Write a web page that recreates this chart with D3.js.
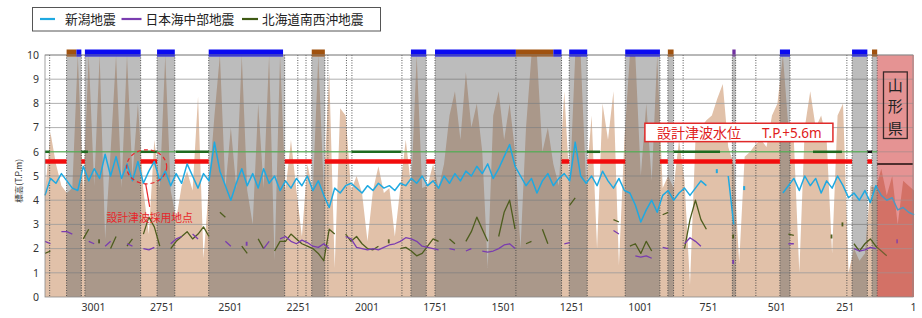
<!DOCTYPE html>
<html>
<head>
<meta charset="utf-8">
<script src="https://cdn.jsdelivr.net/npm/d3@7"></script>
<style>
body{margin:0;background:#fff;font-family:"Noto Sans CJK JP","Noto Sans",sans-serif;}
</style>
</head>
<body>
<div id="chart"></div>
<script>
var W = 922, H = 318;

// distance (m) runs right to left
var xDomain = [3177, 1];
var xTicks = [3001,2751,2501,2251,2001,1751,1501,1251,1001,751,501,251,1];
var yTicks = [0,1,2,3,4,5,6,7,8,9,10];

// profile sampled every 20 from 3177
var seriesStart = 3177, seriesStep = 20;

// ground elevation
var terrain = [
4.3,6.8,5.5,4.6,4.3,4.5,10,4.4,10,4.6,
10,2.4,6,10,4.5,10,5,8,4.4,2.6,
6.5,4.5,10,4.4,3.2,4.6,5.2,4.4,8.3,1.6,
4.6,7.5,10,4.5,7,4.5,10,4.4,3,8,
4.5,10,1.5,10,4.4,6.5,4.4,2.5,5.5,4.4,
10,4.4,9.3,1.2,7.8,7.5,4.4,5.0,4.3,2.3,
4.4,5.4,4.3,4.5,2.5,4.5,6.5,4.5,10,4.5,
4.6,5.5,4.5,5.5,7.5,8.5,6.5,9.3,7,8,
6,1.2,7.5,8.5,6.5,8,6,2.0,7,10,
10,6,7,5.5,4.6,8.5,4.5,10,10,4.6,
7.5,2.0,8,6.5,8.5,1.3,6.5,10,10,5,
8,4.8,10,4.5,5.0,4.5,6.5,4.8,0.5,6.5,
7,7.3,7.5,8.2,8.8,6.2,5.5,1.4,5.8,6,
6.3,6.5,6.2,7.5,8,10,7,6.5,1.0,7,
8.5,7,7.5,6.5,1.8,7.5,8,1.0,2.0,1.5,
1.8,4.6,4.5,5.3,4.2,5.0,3.0,4.8,4.6,4.4
];

// 新潟地震
var niigata = [
4.2,4.9,4.7,5.1,4.8,4.5,4.4,5.4,4.8,5.3,
4.9,5.9,5.0,5.8,4.9,5.5,4.8,5.6,4.7,5.2,
5.6,4.8,5.2,4.6,5.1,4.7,5.5,5.0,4.5,5.1,
4.8,6.4,5.2,4.6,4.0,4.7,5.3,4.6,5.1,4.5,
5.3,4.7,5.0,4.4,4.8,4.5,4.9,4.6,5.0,4.4,
4.8,4.2,3.7,4.5,4.3,4.6,4.7,4.5,4.3,4.6,
4.4,4.7,4.5,4.6,4.4,4.7,4.6,4.9,4.7,5.0,
4.6,4.8,4.5,5.0,4.7,5.1,4.8,5.2,5.0,5.4,
5.1,5.5,4.9,5.3,5.8,6.3,5.4,5.0,4.6,4.9,
4.3,4.8,5.1,4.6,4.9,5.1,4.8,6.4,5.0,4.7,
5.0,4.6,5.2,4.8,4.5,4.9,4.4,4.3,3.8,3.1,
3.6,4.0,3.5,4.2,4.4,4.0,4.3,4.5,4.2,4.5,
4.8,4.6,null,5.2,null,5.0,3.0,null,4.5,null,
null,null,null,null,null,4.3,4.6,4.9,4.4,5.0,
4.6,4.9,4.3,4.8,4.5,5.0,4.6,4.1,4.3,4.0,
4.4,3.9,4.6,4.2,4.0,4.1,3.6,3.7,3.5,3.4
];

// 日本海中部地震
var nihonkai = [
2.3,2.2,null,2.7,2.7,2.6,null,null,2.3,2.2,
null,2.1,2.3,null,null,2.2,2.1,null,2.0,1.95,
2.05,null,null,2.2,2.4,2.5,null,2.6,2.4,null,
null,null,null,2.3,2.1,null,null,2.2,null,null,
2.0,2.3,null,2.4,2.5,2.3,2.2,2.35,2.25,2.1,
2.05,2.2,2.0,null,null,2.5,2.4,2.05,2.0,1.95,
2.0,1.95,2.05,2.15,2.2,2.3,2.45,2.4,2.3,2.1,
2.05,2.0,1.95,null,2.0,1.95,null,1.9,2.0,null,
1.9,1.85,1.9,2.0,2.15,2.2,2.0,null,null,null,
null,null,null,null,null,2.2,2.25,null,null,null,
null,null,null,null,2.75,2.6,null,null,1.7,1.65,
1.7,1.6,null,2.05,2.0,null,null,2.2,2.45,2.3,
2.1,null,null,null,null,null,1.45,null,null,null,
null,null,null,null,null,null,2.2,2.2,null,null,
null,null,null,null,null,null,null,null,2.0,1.9,
1.95,2.05,2.0,null,null,null,2.3,null,null,null
];

// 北海道南西沖地震
var hokkaido = [
1.8,1.9,null,null,null,null,null,2.4,2.8,null,
2.3,null,2.0,2.5,null,2.1,2.4,null,2.6,3.3,
2.9,2.1,null,2.0,2.3,2.5,2.7,2.4,2.6,2.9,
2.5,null,3.5,3.3,null,null,2.1,1.8,null,2.4,
2.0,null,1.9,2.3,2.3,2.6,2.4,2.2,2.1,2.0,
1.8,1.5,2.8,2.6,null,2.6,2.3,2.5,2.2,2.0,
1.95,2.1,null,2.3,null,2.0,2.05,1.9,1.7,1.8,
2.1,2.4,2.3,null,2.4,2.2,null,2.3,2.7,3.3,
2.8,2.3,null,2.5,3.5,4.0,2.8,null,2.2,2.3,
null,2.8,2.2,null,null,null,3.8,4.1,null,null,
null,null,null,null,3.2,3.1,null,2.1,2.2,1.8,
2.3,1.9,null,3.4,3.5,null,null,2.0,3.2,4.0,
3.2,2.8,null,null,null,null,2.5,null,null,null,
null,null,null,null,null,null,2.6,2.55,null,null,
null,null,null,null,2.5,null,3.0,null,2.2,1.9,
2.2,2.4,2.1,1.9,1.7,null,null,null,null,null
];

// shaded sections (from, to)
var bands = [[3098,3044],[3031,2827],[2767,2702],[2578,2300],[2201,2153],[1838,1782],
  [1750,1287],[1259,1193],[1054,927],[898,877],[662,650],[488,451],[224,168],[151,132]];
// marker bars over the sections: a = blue, b = brown, c = purple
var topBars = [[3098,3062,"b"],[3062,3044,"a"],[3031,2827,"a"],[2767,2702,"a"],[2578,2306,"a"],
  [2201,2153,"b"],[1838,1782,"a"],[1750,1454,"a"],[1454,1317,"b"],[1317,1287,"a"],
  [1259,1193,"a"],[1054,927,"a"],[898,877,"b"],[662,650,"c"],[488,451,"a"],[224,168,"a"],[151,132,"b"]];
var extraDotted = [3160,2252,2222,2142,2074,2054,1871,1454,842,576,243];
var greenBold = [[3177,3160],[3044,3020],[2827,2768],[2698,2578],[2055,1874],[1194,1146],[876,707],[367,261]];
var greenBlack = [[167,151]];
var designLevel = 5.6, refLevel = 6.0, yamagataLevel = 5.5;
var yamagata = [132, 1];

var legendItems = [
  {name:"新潟地震", color:"#1fa9e1"},
  {name:"日本海中部地震", color:"#7a3db0"},
  {name:"北海道南西沖地震", color:"#3f5a14"}
];
var barColor = {a:"#0a0af2", b:"#a0520f", c:"#7030a0"};

var svg = d3.select("#chart").append("svg").attr("width", W).attr("height", H)
  .style("font-family", '"Noto Sans CJK JP","Noto Sans",sans-serif');

var x = d3.scaleLinear().domain(xDomain).range([45, 913]);
var y = d3.scaleLinear().domain([0, 10]).range([297, 55]);
var xs = function(i){ return seriesStart - seriesStep*i; };

var defs = svg.append("defs");
defs.append("clipPath").attr("id","clipMain").append("rect")
  .attr("x", x(xDomain[0])).attr("y", y(10)).attr("width", x(yamagata[0]) - x(xDomain[0])).attr("height", y(0)-y(10));
defs.append("clipPath").attr("id","clipPink").append("rect")
  .attr("x", x(yamagata[0])).attr("y", y(10)).attr("width", x(yamagata[1]) - x(yamagata[0]) + 1).attr("height", y(0)-y(10));

// Yamagata background
svg.append("rect")
  .attr("x", x(yamagata[0])).attr("y", y(10))
  .attr("width", x(yamagata[1]) - x(yamagata[0]) + 1).attr("height", y(0)-y(10))
  .attr("fill", "#eaa6a6");

var area = d3.area()
  .x(function(d,i){ return x(xs(i)); })
  .y0(y(0))
  .y1(function(d){ return y(d); });

svg.append("path").datum(terrain).attr("clip-path","url(#clipMain)")
  .attr("d", area).attr("fill", "#e1c1a9");
svg.append("path").datum(terrain).attr("clip-path","url(#clipPink)")
  .attr("d", area).attr("fill", "#d27767");

// grid
svg.selectAll(".grid").data(yTicks.slice(1)).enter().append("line")
  .attr("x1", x(xDomain[0])).attr("x2", x(1))
  .attr("y1", function(d){return y(d);}).attr("y2", function(d){return y(d);})
  .attr("stroke", "#9a9a9a").attr("stroke-width", 0.8);

// gray sections
svg.selectAll(".band").data(bands).enter().append("rect")
  .attr("x", function(d){return x(d[0]);})
  .attr("width", function(d){return x(d[1]) - x(d[0]);})
  .attr("y", y(10)).attr("height", y(0)-y(10))
  .attr("fill", "rgba(95,95,95,0.42)");

// dotted boundaries
var dotted = extraDotted.slice();
bands.forEach(function(b){ dotted.push(b[0]); dotted.push(b[1]); });
svg.selectAll(".dot").data(dotted).enter().append("line")
  .attr("x1", function(d){return x(d);}).attr("x2", function(d){return x(d);})
  .attr("y1", y(10)).attr("y2", y(0))
  .attr("stroke", "#444").attr("stroke-width", 0.9).attr("stroke-dasharray", "1,1.5");

// 6.0 reference line
svg.append("line")
  .attr("x1", x(xDomain[0])).attr("x2", x(yamagata[0]))
  .attr("y1", y(refLevel)).attr("y2", y(refLevel))
  .attr("stroke", "#4cb84c").attr("stroke-width", 1);
svg.selectAll(".gb").data(greenBold).enter().append("line")
  .attr("x1", function(d){return x(d[0]);}).attr("x2", function(d){return x(d[1]);})
  .attr("y1", y(refLevel)).attr("y2", y(refLevel))
  .attr("stroke", "#1f6b1f").attr("stroke-width", 2.5);
svg.selectAll(".gk").data(greenBlack).enter().append("line")
  .attr("x1", function(d){return x(d[0]);}).attr("x2", function(d){return x(d[1]);})
  .attr("y1", y(refLevel)).attr("y2", y(refLevel))
  .attr("stroke", "#111").attr("stroke-width", 2.5);

// design tsunami level, broken at the gray sections
var redSeg = [], cur = xDomain[0];
bands.forEach(function(b){
  if (b[0] < cur) redSeg.push([cur, b[0]]);
  cur = b[1];
});
if (cur > yamagata[0]) redSeg.push([cur, yamagata[0]]);
svg.selectAll(".red").data(redSeg).enter().append("line")
  .attr("x1", function(d){return x(d[0]);}).attr("x2", function(d){return x(d[1]);})
  .attr("y1", y(designLevel)).attr("y2", y(designLevel))
  .attr("stroke", "#f20c0c").attr("stroke-width", 4.5);

svg.append("line")
  .attr("x1", x(yamagata[0])).attr("x2", x(yamagata[1]))
  .attr("y1", y(yamagataLevel)).attr("y2", y(yamagataLevel))
  .attr("stroke", "#1a1a1a").attr("stroke-width", 2);

// earthquake series
function drawSeries(vals, color, width){
  var line = d3.line()
    .defined(function(d){return d != null;})
    .x(function(d,i){return x(xs(i));})
    .y(function(d){return y(d);});
  svg.append("path").datum(vals).attr("d", line)
    .attr("fill","none").attr("stroke", color).attr("stroke-width", width)
    .attr("stroke-linejoin","round");
  var lone = [];
  vals.forEach(function(d,i){
    if (d != null && (i == 0 || vals[i-1] == null) && (i == vals.length-1 || vals[i+1] == null)) lone.push(i);
  });
  svg.selectAll(null).data(lone).enter().append("rect")
    .attr("x", function(i){return x(xs(i)) - 1.5;})
    .attr("y", function(i){return y(vals[i]) - 2;})
    .attr("width", width + 0.5).attr("height", 4)
    .attr("fill", color);
}
drawSeries(hokkaido, "#4e5d1e", 1.3);
drawSeries(nihonkai, "#7a3db0", 1.3);
drawSeries(niigata, "#1fa9e1", 1.5);

// Yamagata tint over the lines
svg.append("rect")
  .attr("x", x(yamagata[0])).attr("y", y(10))
  .attr("width", x(yamagata[1]) - x(yamagata[0]) + 1).attr("height", y(0)-y(10))
  .attr("fill", "rgba(215,100,100,0.28)");

// bars above the sections
svg.selectAll(".tb").data(topBars).enter().append("rect")
  .attr("x", function(d){return x(d[0]);})
  .attr("width", function(d){return x(d[1]) - x(d[0]);})
  .attr("y", y(10) - 5.5).attr("height", 7)
  .attr("fill", function(d){return barColor[d[2]];});

// frame
svg.append("rect")
  .attr("x", x(xDomain[0])).attr("y", y(10))
  .attr("width", x(1) - x(xDomain[0])).attr("height", y(0)-y(10))
  .attr("fill","none").attr("stroke","#8a8a8a").attr("stroke-width",0.8);

// axes
var xAxis = svg.append("g").attr("transform","translate(0," + y(0) + ")")
  .call(d3.axisBottom(x).tickValues(xTicks).tickSize(0).tickPadding(7).tickFormat(d3.format("d")));
var yAxis = svg.append("g").attr("transform","translate(" + x(xDomain[0]) + ",0)")
  .call(d3.axisLeft(y).tickValues(yTicks).tickSize(0).tickPadding(6));
[xAxis, yAxis].forEach(function(g){
  g.select(".domain").remove();
  g.selectAll("text").attr("font-size", 10.5).attr("fill", "#333")
    .attr("font-family", '"Noto Sans","Liberation Sans",sans-serif');
});

svg.append("text")
  .attr("transform", "translate(22," + y(4.8) + ") rotate(-90)")
  .attr("text-anchor","middle").attr("font-size", 8.5).attr("fill","#333")
  .text("標高(T.P.m)");

// design tsunami point marker
var cx = x(2805), cy = y(5.38);
svg.append("ellipse").attr("cx", cx).attr("cy", cy).attr("rx", 20).attr("ry", 17)
  .attr("fill","none").attr("stroke","#e8262a").attr("stroke-width",1.2).attr("stroke-dasharray","4,3");
svg.append("line").attr("x1", cx - 1).attr("y1", cy + 17).attr("x2", cx + 3).attr("y2", cy + 40)
  .attr("stroke","#e8262a").attr("stroke-width",1.2);
svg.append("text").attr("x", cx + 3).attr("y", cy + 55)
  .attr("text-anchor","middle").attr("font-size", 10.8).attr("fill","#e8262a")
  .text("設計津波採用地点");

// design tsunami level label
var bx0 = x(982), bx1 = x(294), by0 = y(7.18), by1 = y(6.42);
svg.append("rect").attr("x", bx0).attr("y", by0).attr("width", bx1 - bx0).attr("height", by1 - by0)
  .attr("fill","#fff").attr("stroke","#e02a2a").attr("stroke-width",1.5);
svg.append("text").attr("x", bx0 + 12).attr("y", by1 - 4)
  .attr("font-size", 14).attr("fill","#e02020").text("設計津波水位");
svg.append("text").attr("x", bx0 + 117).attr("y", by1 - 4)
  .attr("font-size", 13.5).attr("fill","#e02020")
  .attr("font-family",'"Noto Sans","Liberation Sans",sans-serif').text("T.P.+5.6m");

// Yamagata label
var yx0 = x(109), yx1 = x(22), yy0 = y(9.3), yy1 = y(6.55);
svg.append("rect").attr("x", yx0).attr("y", yy0).attr("width", yx1 - yx0).attr("height", yy1 - yy0)
  .attr("fill","none").attr("stroke","#3a2a2a").attr("stroke-width",1.3);
svg.selectAll(".yg").data(["山","形","県"]).enter().append("text")
  .attr("x", (yx0 + yx1)/2).attr("y", function(d,i){ return yy0 + 19 + i*21.5; })
  .attr("text-anchor","middle").attr("font-size", 15).attr("fill","#222")
  .text(function(d){return d;});

// legend
var lg = svg.append("g");
lg.append("rect").attr("x", 32.5).attr("y", 7.5).attr("width", 348).attr("height", 23.5)
  .attr("fill","#fff").attr("stroke","#555").attr("stroke-width",1);
var lgPos = [40, 121.5, 242];
var lgLen = [15, 20, 16];
legendItems.forEach(function(d,i){
  lg.append("line").attr("x1", lgPos[i]).attr("x2", lgPos[i] + lgLen[i])
    .attr("y1", 19).attr("y2", 19).attr("stroke", d.color).attr("stroke-width", 2.2);
  lg.append("text").attr("x", lgPos[i] + lgLen[i] + (i == 0 ? 10 : 4)).attr("y", 23.5)
    .attr("font-size", 12.7).attr("fill","#222").text(d.name);
});
</script>
</body>
</html>
